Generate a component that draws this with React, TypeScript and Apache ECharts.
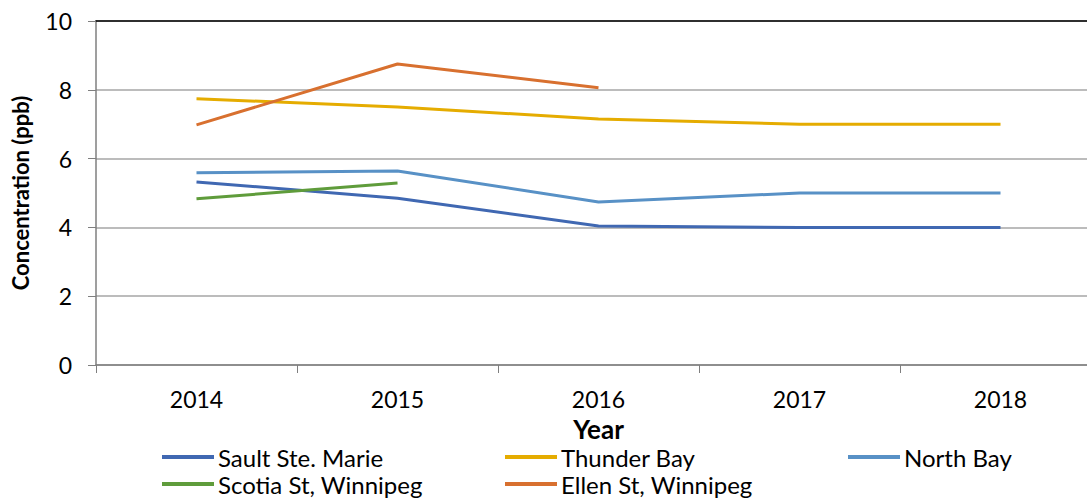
import React, { useEffect, useRef } from "react";
import * as echarts from "echarts";

const years = ["2014", "2015", "2016", "2017", "2018"];
const saultSteMarie = [5.32, 4.85, 4.04, 4.0, 4.0];
const thunderBay = [7.74, 7.5, 7.15, 7.0, 7.0];
const northBay = [5.59, 5.64, 4.74, 5.0, 5.0];
const scotiaSt = [4.83, 5.29, null, null, null];
const ellenSt = [6.98, 8.75, 8.06, null, null];
const yTicks = { min: 0, max: 10, interval: 2 };

const FONT = "Lato";

export default function App() {
  const ref = useRef<HTMLDivElement>(null);
  useEffect(() => {
    const chart = echarts.init(ref.current!, null, { renderer: "svg" });
    const mk = (name: string, data: (number | null)[], color: string) => ({
      name,
      type: "line",
      data,
      symbol: "none",
      showSymbol: false,
      connectNulls: false,
      lineStyle: { color, width: 3 },
      itemStyle: { color },
    });
    const legendBase = {
      orient: "horizontal",
      itemWidth: 52,
      itemHeight: 4,
      icon: "rect",
      textStyle: { fontFamily: FONT, fontSize: 24, color: "#000", padding: [0, 0, 0, -1] },
      padding: 0,
    };
    chart.setOption({
      animation: false,
      textStyle: { fontFamily: FONT },
      grid: { left: 96, right: -14, top: 21, bottom: 133, outerBoundsMode: "none", containLabel: false },
      xAxis: [
        {
          type: "category",
          data: years,
          boundaryGap: true,
          name: "Year",
          nameLocation: "middle",
          nameGap: 51,
          nameTextStyle: { fontFamily: FONT, fontSize: 26, fontWeight: "bold", color: "#000" },
          axisLine: { lineStyle: { color: "#7f7f7f", width: 1.5 } },
          axisTick: { show: true, interval: 0, length: 8, lineStyle: { color: "#7f7f7f" } },
          axisLabel: { fontFamily: FONT, fontSize: 23, color: "#000", margin: 22, interval: 0 },
          splitLine: { show: false },
        },
        {
          type: "category",
          data: years,
          position: "top",
          axisLine: { show: true, lineStyle: { color: "#000", width: 1.5 } },
          axisTick: { show: false },
          axisLabel: { show: false },
        },
      ],
      yAxis: {
        type: "value",
        min: yTicks.min,
        max: yTicks.max,
        interval: yTicks.interval,
        name: "Concentration (ppb)",
        nameLocation: "middle",
        nameGap: 65,
        nameRotate: 90,
        nameTextStyle: { fontFamily: FONT, fontSize: 22, fontWeight: "bold", color: "#000" },
        axisLine: { show: true, lineStyle: { color: "#7f7f7f", width: 1.5 } },
        axisTick: { show: true, length: 8, lineStyle: { color: "#7f7f7f" } },
        axisLabel: { fontFamily: FONT, fontSize: 23, color: "#000", margin: 24 },
        splitLine: { lineStyle: { color: "#a6a6a6", width: 1.5 } },
      },
      legend: [
        { ...legendBase, left: 162, top: 445, data: ["Sault Ste. Marie"] },
        { ...legendBase, left: 162, top: 472, data: ["Scotia St, Winnipeg"] },
        { ...legendBase, left: 505, top: 445, data: ["Thunder Bay"] },
        { ...legendBase, left: 505, top: 472, data: ["Ellen St, Winnipeg"] },
        { ...legendBase, left: 848, top: 445, data: ["North Bay"] },
      ],
      series: [
        mk("Sault Ste. Marie", saultSteMarie, "#4068b2"),
        mk("Thunder Bay", thunderBay, "#e5ac00"),
        mk("North Bay", northBay, "#5891c6"),
        mk("Scotia St, Winnipeg", scotiaSt, "#5f9c3b"),
        mk("Ellen St, Winnipeg", ellenSt, "#d8702f"),
      ],
    });
    return () => chart.dispose();
  }, []);
  return (
    <div
      ref={ref}
      style={{ position: "absolute", left: 0, top: 0, width: 1087, height: 498, background: "#fff" }}
    />
  );
}
